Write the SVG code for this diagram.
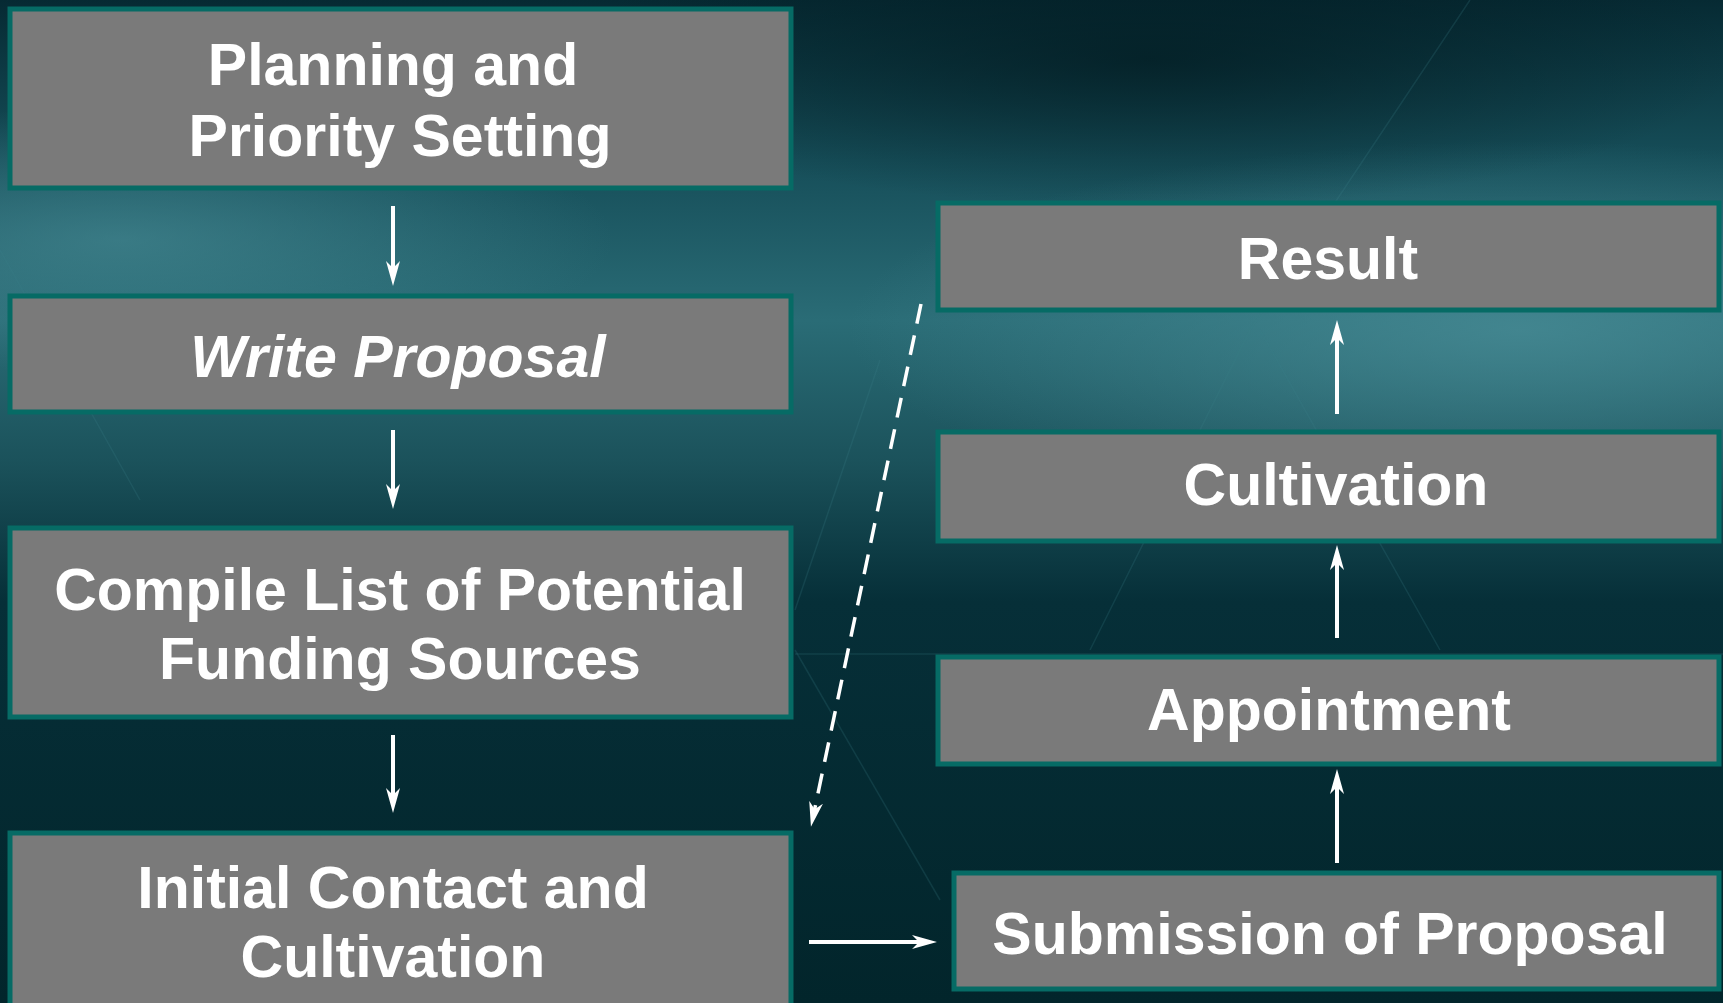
<svg xmlns="http://www.w3.org/2000/svg" width="1723" height="1003" viewBox="0 0 1723 1003">
  <defs>
    <linearGradient id="bg" x1="0" y1="0" x2="0" y2="1">
      <stop offset="0" stop-color="#062a33"/>
      <stop offset="0.16" stop-color="#164e59"/>
      <stop offset="0.32" stop-color="#2a6c76"/>
      <stop offset="0.46" stop-color="#1b525b"/>
      <stop offset="0.6" stop-color="#062f38"/>
      <stop offset="1" stop-color="#02252b"/>
    </linearGradient>
    <radialGradient id="glowR" cx="1520" cy="330" r="420" gradientUnits="userSpaceOnUse" gradientTransform="translate(1520 330) scale(1.6 0.45) translate(-1520 -330)">
      <stop offset="0" stop-color="#4a8e98" stop-opacity="0.75"/>
      <stop offset="1" stop-color="#4a8e98" stop-opacity="0"/>
    </radialGradient>
    <radialGradient id="glowL" cx="120" cy="240" r="380" gradientUnits="userSpaceOnUse" gradientTransform="translate(120 240) scale(1.3 0.35) translate(-120 -240)">
      <stop offset="0" stop-color="#4a8e98" stop-opacity="0.6"/>
      <stop offset="1" stop-color="#4a8e98" stop-opacity="0"/>
    </radialGradient>
    <radialGradient id="darkTop" cx="1150" cy="60" r="420" gradientUnits="userSpaceOnUse" gradientTransform="translate(1150 60) scale(1.4 0.35) translate(-1150 -60)">
      <stop offset="0" stop-color="#00151a" stop-opacity="0.6"/>
      <stop offset="1" stop-color="#00151a" stop-opacity="0"/>
    </radialGradient>
    <marker id="ah" viewBox="0 0 25 16" refX="15" refY="8" markerWidth="25" markerHeight="16" markerUnits="userSpaceOnUse" orient="auto">
      <path d="M0,1 L25,8 L0,15 L7,8 Z" fill="#ffffff"/>
    </marker>
  </defs>
  <style>
    .box { fill: #7a7a7a; stroke: #066b65; stroke-width: 5; }
    .lbl { font-family: "Liberation Sans", Arial, sans-serif; font-weight: bold; font-size: 59px; fill: #ffffff; text-anchor: middle; }
    .it { font-style: italic; }
    .conn { stroke: #ffffff; stroke-width: 4; fill: none; marker-end: url(#ah); }
    .dash { stroke-width: 3.5; stroke-dasharray: 20 12; }
    .deco { stroke: #3a8088; stroke-width: 1.5; fill: none; opacity: 0.22; }
  </style>
  <rect x="0" y="0" width="1723" height="1003" fill="url(#bg)"/>
  <rect x="0" y="0" width="1723" height="1003" fill="url(#glowR)"/>
  <rect x="0" y="0" width="1723" height="1003" fill="url(#glowL)"/>
  <rect x="0" y="0" width="1723" height="1003" fill="url(#darkTop)"/>
  <g id="background-lines">
    <path class="deco" d="M1470 0 L1250 330 L1090 650"/>
    <path class="deco" d="M1260 330 L1440 650"/>
    <path class="deco" d="M795 650 L940 900"/>
    <path class="deco" d="M795 610 L880 360"/>
    <path class="deco" d="M795 654 L1723 654"/>
    <path class="deco" d="M0 250 L140 500"/>
  </g>

  <g id="node-planning">
    <rect class="box" x="10" y="9" width="781" height="179"/>
    <text class="lbl" x="393" y="85">Planning and</text>
    <text class="lbl" x="400" y="156">Priority Setting</text>
  </g>
  <g id="node-write">
    <rect class="box" x="10" y="296" width="781" height="116"/>
    <text class="lbl it" x="398" y="377">Write Proposal</text>
  </g>
  <g id="node-compile">
    <rect class="box" x="10" y="528" width="781" height="189"/>
    <text class="lbl" x="400" y="610">Compile List of Potential</text>
    <text class="lbl" x="400" y="679">Funding Sources</text>
  </g>
  <g id="node-initial">
    <rect class="box" x="10" y="833" width="781" height="180"/>
    <text class="lbl" x="393" y="908">Initial Contact and</text>
    <text class="lbl" x="393" y="977">Cultivation</text>
  </g>
  <g id="node-result">
    <rect class="box" x="938" y="203" width="781" height="107"/>
    <text class="lbl" x="1328" y="279">Result</text>
  </g>
  <g id="node-cultivation">
    <rect class="box" x="938" y="432" width="781" height="109"/>
    <text class="lbl" x="1336" y="505">Cultivation</text>
  </g>
  <g id="node-appointment">
    <rect class="box" x="938" y="657" width="781" height="107"/>
    <text class="lbl" x="1329" y="730">Appointment</text>
  </g>
  <g id="node-submission">
    <rect class="box" x="954" y="873" width="765" height="116"/>
    <text class="lbl" x="1330" y="954">Submission of Proposal</text>
  </g>

  <g id="connectors">
    <line class="conn" x1="393" y1="206" x2="393" y2="276"/>
    <line class="conn" x1="393" y1="430" x2="393" y2="499"/>
    <line class="conn" x1="393" y1="735" x2="393" y2="803"/>
    <line class="conn" x1="809" y1="942" x2="927" y2="942"/>
    <line class="conn" x1="1337" y1="863" x2="1337" y2="779"/>
    <line class="conn" x1="1337" y1="638" x2="1337" y2="555"/>
    <line class="conn" x1="1337" y1="414" x2="1337" y2="330"/>
    <line class="conn dash" x1="921" y1="304" x2="813" y2="817"/>
  </g>
</svg>
